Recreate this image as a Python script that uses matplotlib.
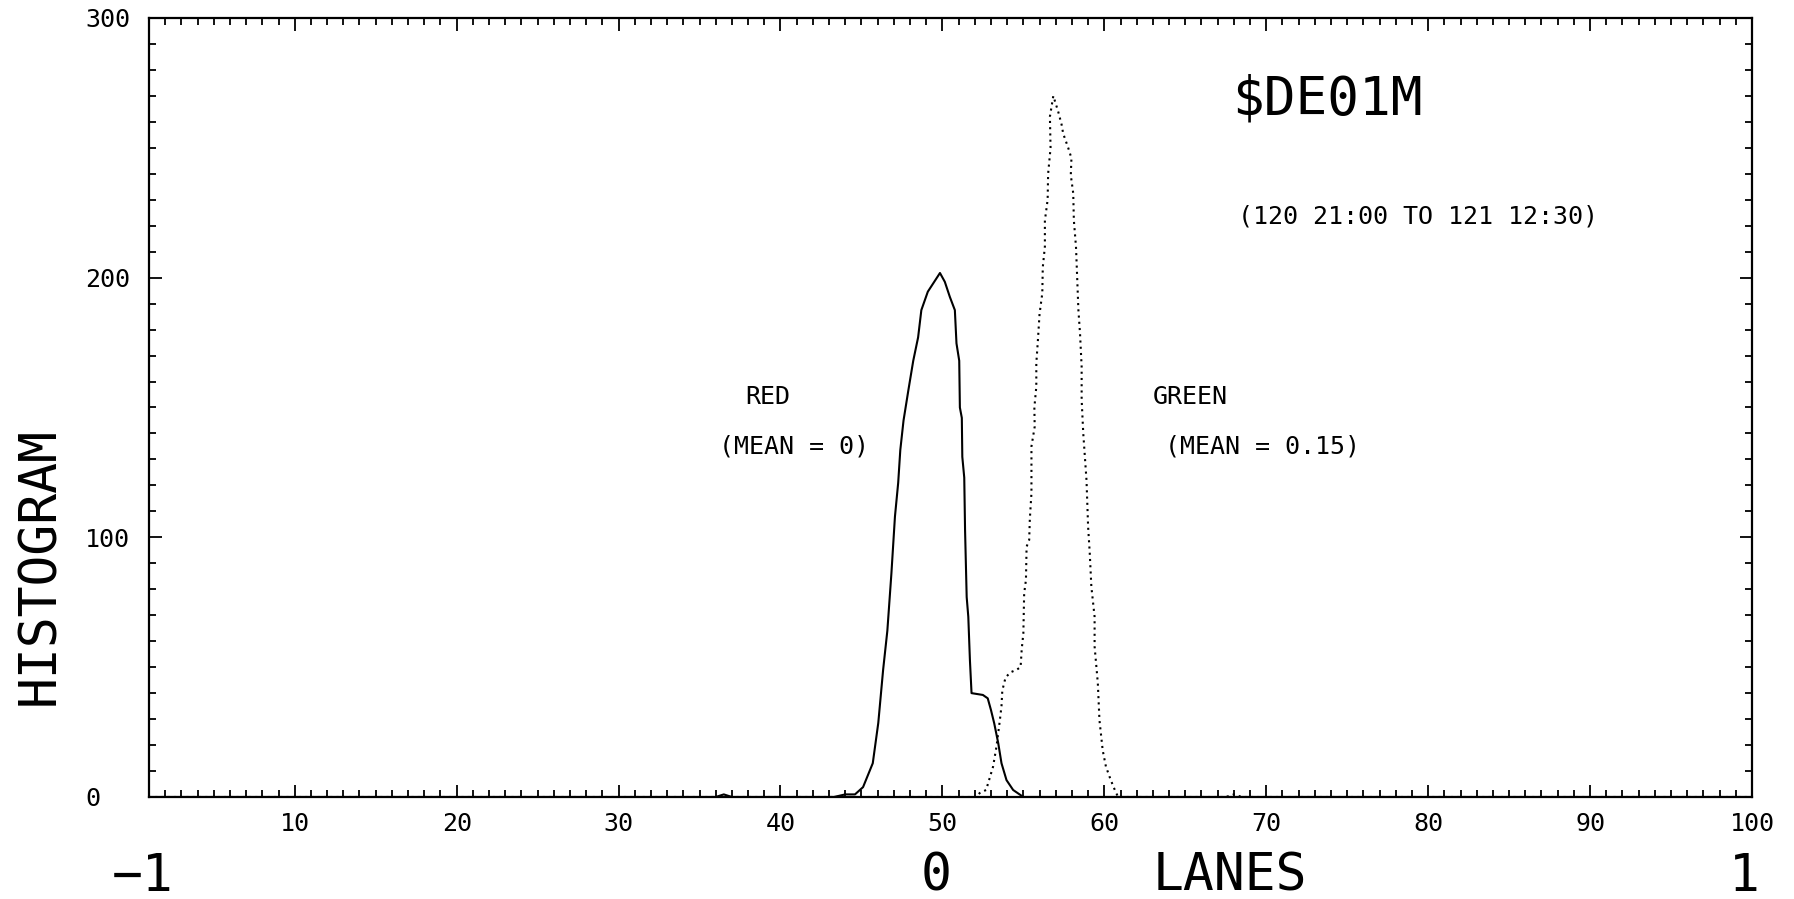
import matplotlib.pyplot as plt
from matplotlib.ticker import MultipleLocator

# Lane histogram (lane, count)
red_lane = [1, 36.0, 36.5, 37.0, 43.3, 44.0, 44.6, 45.1, 45.7, 46.04, 46.34, 46.6,
            46.85, 47.07, 47.27, 47.4, 47.6, 47.9, 48.2, 48.5, 48.7, 49.1, 49.85,
            50.15, 50.46, 50.77, 50.87, 51.04, 51.08, 51.2, 51.23, 51.35, 51.4,
            51.5, 51.6, 51.7, 51.8, 52.5, 52.8, 53.0, 53.2, 53.45, 53.65, 53.96,
            54.37, 55.0, 100]
red_count = [0, 0, 1, 0, 0, 1, 1, 3.8, 13, 28.5, 49, 64,
             86, 108, 121, 133.6, 145, 156.7, 168, 177, 187.5, 194.6, 201.8,
             198.4, 192.6, 187.5, 174.7, 168, 150, 146, 131, 123, 102.8,
             77, 69.4, 52.7, 40, 39.3, 38, 33.5, 28.4, 20.7, 13, 6.5,
             2.7, 0, 0]

green_lane = [1, 52.1, 52.3, 52.7, 53.13, 53.34, 53.55, 53.65, 53.7, 53.9, 54.2,
              54.58, 54.83, 54.9, 55.0, 55.05, 55.16, 55.2, 55.36, 55.4, 55.5,
              55.5, 55.7, 55.68, 55.8, 55.8, 55.9, 56.0, 56.17, 56.2, 56.33,
              56.33, 56.5, 56.53, 56.68, 56.64, 56.85,
              57.15, 57.36, 57.46, 57.77, 57.97, 57.93, 58.08, 58.12, 58.25,
              58.3, 58.4, 58.5, 58.6, 58.6, 58.7, 58.9, 59.0, 59.1, 59.2, 59.4,
              59.4, 59.6, 59.7, 59.9, 60.1, 60.4, 60.65, 60.85, 67.5, 68.0, 68.5, 100]
green_count = [0, 0, 1.5, 2.7, 11.7, 19.4, 29.6, 35, 41, 46, 48,
               49, 50, 57, 63, 78.4, 83.6, 96.4, 99, 107, 117,
               135, 142.6, 150, 158, 167, 176, 186, 194, 204, 212,
               222, 230, 240, 250, 262, 270,
               264, 259, 255.5, 250, 246, 239.5, 232.5, 222, 212,
               204, 187.5, 178.5, 165.7, 153, 140, 122, 104, 94, 81, 69.4,
               58, 43.8, 29.6, 18, 11.7, 6.5, 2.7, 0, 0, 1, 0, 0]

x_ticks = [10, 20, 30, 40, 50, 60, 70, 80, 90, 100]
y_ticks = [0, 100, 200, 300]

mono = 'DejaVu Sans Mono'
plt.rcParams['font.family'] = mono

fig = plt.figure(figsize=(17.94, 8.99), dpi=100)
ax = fig.add_axes([0.08305, 0.11346, 0.89353, 0.86652])

ax.plot(red_lane, red_count, color='black', linewidth=1.5, label='RED')
ax.plot(green_lane, green_count, color='black', linewidth=1.5,
        linestyle=(0, (1, 2)), label='GREEN')

ax.set_xlim(1, 100)
ax.set_ylim(0, 300)

ax.set_xticks(x_ticks)
ax.set_yticks(y_ticks)
ax.xaxis.set_minor_locator(MultipleLocator(1))
ax.yaxis.set_minor_locator(MultipleLocator(10))
ax.tick_params(which='both', direction='in', top=True, right=True,
               width=1.3, colors='black')
ax.tick_params(which='major', length=9)
ax.tick_params(which='minor', length=5)
ax.tick_params(axis='x', which='major', pad=11, labelsize=18)
ax.tick_params(axis='y', which='major', pad=46, labelsize=18)
for lab in ax.get_yticklabels():
    lab.set_horizontalalignment('left')
for s in ax.spines.values():
    s.set_linewidth(1.6)

# Annotations inside the plot
small = 18
ax.text(73.75, 268.8, '\\$DE01M', fontsize=38, ha='center', va='center')
ax.text(79.4, 223.7, '(120 21:00 TO 121 12:30)', fontsize=small, ha='center', va='center')
ax.text(39.2, 154, 'RED', fontsize=small, ha='center', va='center')
ax.text(40.85, 134.8, '(MEAN = 0)', fontsize=small, ha='center', va='center')
ax.text(65.3, 154, 'GREEN', fontsize=small, ha='center', va='center')
ax.text(69.8, 134.8, '(MEAN = 0.15)', fontsize=small, ha='center', va='center')

# Outer labels
fig.text(0.0223, 0.3704, 'HISTOGRAM', fontsize=37, rotation=90, ha='center', va='center')
fig.text(0.0797, 0.0245, '\u22121', fontsize=37, ha='center', va='center')
fig.text(0.5217, 0.0245, '0', fontsize=37, ha='center', va='center')
fig.text(0.6856, 0.0245, 'LANES', fontsize=37, ha='center', va='center')
fig.text(0.9721, 0.0245, '1', fontsize=37, ha='center', va='center')

fig.savefig('out.png', dpi=100)
